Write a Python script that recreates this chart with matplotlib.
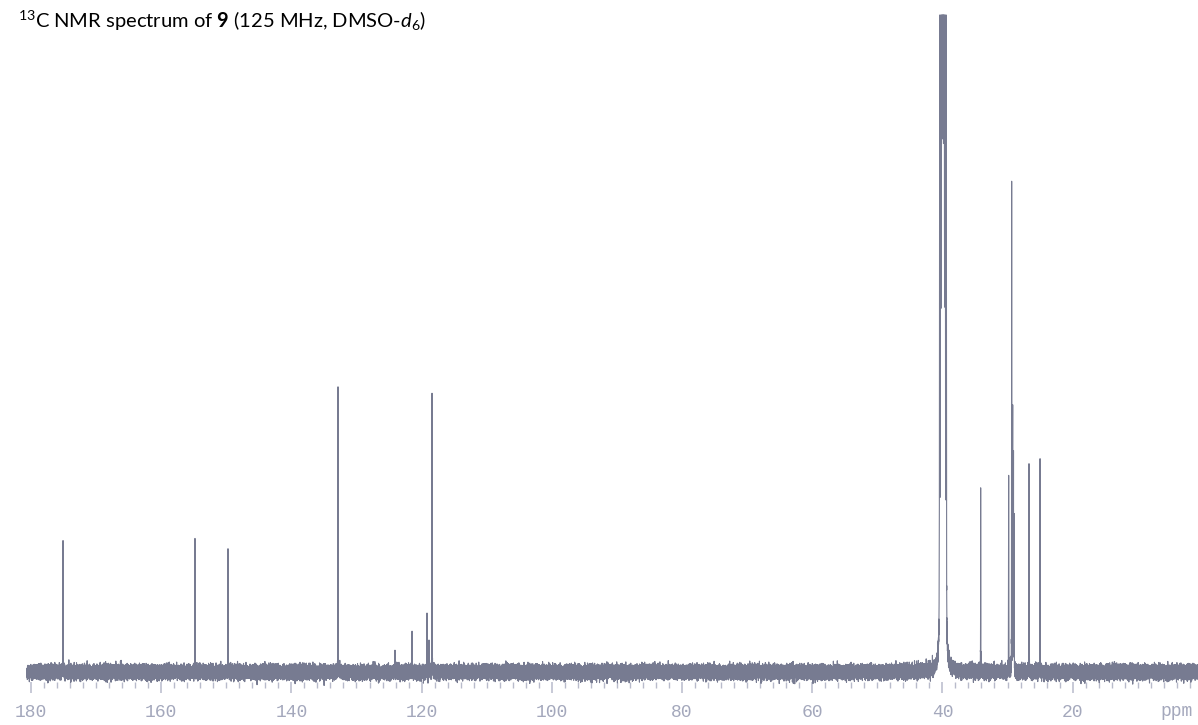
import numpy as np
import matplotlib
matplotlib.use("Agg")
import matplotlib.pyplot as plt

# ---- data ----
peak_ppm = [175.08, 154.81, 149.74, 132.84, 124.09, 121.47, 119.17, 118.86, 118.40,
            34.12, 29.82, 29.36, 29.20, 29.08, 28.98, 26.70, 25.00]
peak_height = [132, 130, 124, 286, 19, 37, 55, 29, 280,
               186, 193, 487, 259, 215, 150, 208, 213]
solvent_center = 39.92
solvent_J = 0.168
solvent_weights = [1, 3, 6, 7, 6, 3, 1]
solvent_scale = 700
major_ticks = [180, 160, 140, 120, 100, 80, 60, 40, 20]
title_text = r"$^{\mathrm{13}}$C NMR spectrum of $\mathbf{9}$ (125 MHz, DMSO-$d_{\mathrm{6}}$)"

# ---- style ----
plt.rcParams['mathtext.fontset'] = 'custom'
plt.rcParams['mathtext.rm'] = 'Lato'
plt.rcParams['mathtext.bf'] = 'Lato:bold'
plt.rcParams['mathtext.it'] = 'Lato:italic'

W, H = 1198, 725
fig = plt.figure(figsize=(W / 100, H / 100), dpi=100)
ax_bottom_px, ax_top_px, base_px = 682, 15, 672
ax = fig.add_axes([0, (H - ax_bottom_px) / H, 1, (ax_bottom_px - ax_top_px) / H])

ymin = -(ax_bottom_px - base_px)
ymax = base_px - ax_top_px
ax.set_ylim(ymin, ymax)
px_per_ppm = 6.51
ax.set_xlim(180 + 31 / px_per_ppm, 180 - (W - 31) / px_per_ppm)

# spectrum built from the peak lists
x = np.linspace(180.6, 0.0, 2 ** 17)
spec = np.zeros_like(x)
gamma = 0.012
for p, h in zip(peak_ppm, peak_height):
    spec += h / (1 + ((x - p) / gamma) ** 2)
g_s = 0.02
for i, w in enumerate(solvent_weights):
    c = solvent_center + (i - 3) * solvent_J
    spec += solvent_scale * w / (1 + ((x - c) / g_s) ** 2)
# baseline noise texture (fixed seed)
rng = np.random.default_rng(7)
spec += rng.normal(0, 3.0, x.size)
spec = np.minimum(spec, ymax)

ax.plot(x, spec, color='#777b91', lw=0.8, clip_on=False, antialiased=True)

for s in ax.spines.values():
    s.set_visible(False)
ax.set_yticks([])
ax.set_xticks(major_ticks)
ax.set_xticks(np.arange(180, 0, -2), minor=True)
ax.tick_params(axis='x', which='major', direction='out', length=8, width=1.1,
               color='#b8bbcb', labelsize=13, labelcolor='#a4a8bc', pad=8)
ax.tick_params(axis='x', which='minor', direction='out', length=4, width=1.0,
               color='#b8bbcb')
for lab in ax.get_xticklabels():
    lab.set_family('Liberation Mono')
ax.patch.set_alpha(0)

fig.text(1177 / W, 1 - 712 / H, 'ppm', family='Liberation Mono', fontsize=13,
         color='#a4a8bc', ha='center', va='center')
fig.text(18 / W, 1 - 28 / H, title_text, family='Lato', fontsize=14.5,
         color='black', ha='left', va='baseline')

fig.savefig('out.png', dpi=100)
